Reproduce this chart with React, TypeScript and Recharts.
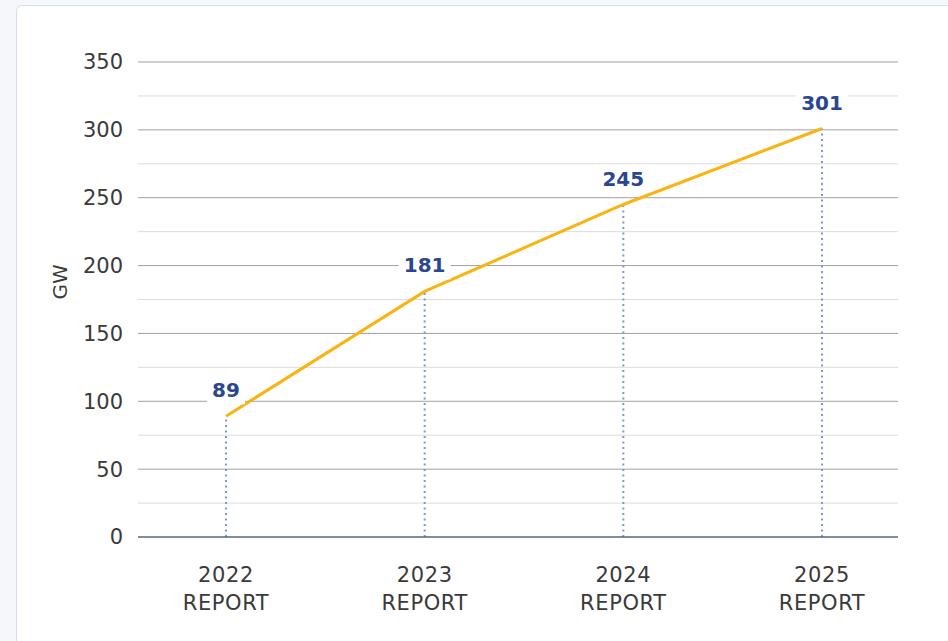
import React from "react";
import {
  LineChart,
  Line,
  XAxis,
  YAxis,
  CartesianGrid,
  ReferenceLine,
  LabelList,
} from "recharts";

const reports = ["2022 REPORT", "2023 REPORT", "2024 REPORT", "2025 REPORT"];
const capacityGW = [89, 181, 245, 301];
const majorTicks = [0, 50, 100, 150, 200, 250, 300, 350];
const minorTicks = [25, 75, 125, 175, 225, 275, 325];

const data = reports.map((r, i) => ({ report: r, gw: capacityGW[i] }));

const tickFont = "'DejaVu Sans', sans-serif";

const XTick = (props: any) => {
  const { x, y, payload } = props;
  const [year, word] = String(payload.value).split(" ");
  return (
    <g transform={`translate(${x},${y})`}>
      <text
        textAnchor="middle"
        fill="#3a3a3a"
        fontSize={21}
        fontFamily={tickFont}
        letterSpacing={0.6}
      >
        <tspan x={0} dy={37}>{year}</tspan>
        <tspan x={0} dy={28}>{word}</tspan>
      </text>
    </g>
  );
};

const ValueLabel = (props: any) => {
  const { x, y, value } = props;
  const w = String(value).length * 14 + 10;
  return (
    <g>
      <rect x={x - w / 2} y={y - 40} width={w} height={28} fill="#fff" />
      <text
        x={x}
        y={y - 19}
        textAnchor="middle"
        fill="#2b4690"
        fontSize={20}
        fontWeight="bold"
        fontFamily={tickFont}
      >
        {value}
      </text>
    </g>
  );
};

export default function App() {
  return (
    <div
      style={{
        position: "fixed",
        left: 0,
        top: 0,
        width: 948,
        height: 641,
        background: "#f6f7fa",
        overflow: "hidden",
      }}
    >
      <div
        style={{
          position: "absolute",
          left: 16,
          top: 5,
          width: 960,
          height: 700,
          background: "#fff",
          border: "1px solid #d6ddef",
          borderRadius: 6,
        }}
      >
        <div style={{ position: "absolute", left: -17, top: -6 }}>
          <LineChart
            width={948}
            height={641}
            data={data}
            margin={{ top: 62, right: 50, left: 40, bottom: 74 }}
          >
            <CartesianGrid
              vertical={false}
              horizontalValues={minorTicks}
              stroke="#dcdcdc"
            />
            <CartesianGrid
              vertical={false}
              horizontalValues={majorTicks}
              stroke="#a0a0a0"
            />
            <XAxis
              dataKey="report"
              padding={{ left: 88, right: 76 }}
              tick={<XTick />}
              tickLine={false}
              axisLine={{ stroke: "#3b4868", strokeWidth: 1 }}
              interval={0}
            />
            <YAxis
              domain={[0, 350]}
              ticks={majorTicks}
              width={98}
              tickLine={false}
              axisLine={false}
              tickMargin={9}
              tick={{ fill: "#3a3a3a", fontSize: 21, fontFamily: tickFont }}
              label={{
                value: "GW",
                angle: -90,
                position: "insideLeft",
                offset: 20,
                style: { fill: "#3a3a3a", fontSize: 20, fontFamily: tickFont },
              }}
            />
            {data.map((d) => (
              <ReferenceLine
                key={d.report}
                segment={[
                  { x: d.report, y: 0 },
                  { x: d.report, y: d.gw },
                ]}
                stroke="#7f96d2"
                strokeWidth={2}
                strokeDasharray="2 3.5"
              />
            ))}
            <Line
              type="linear"
              dataKey="gw"
              stroke="#f8b412"
              strokeWidth={3}
              dot={false}
              isAnimationActive={false}
            >
              <LabelList dataKey="gw" content={<ValueLabel />} />
            </Line>
          </LineChart>
        </div>
      </div>
    </div>
  );
}
